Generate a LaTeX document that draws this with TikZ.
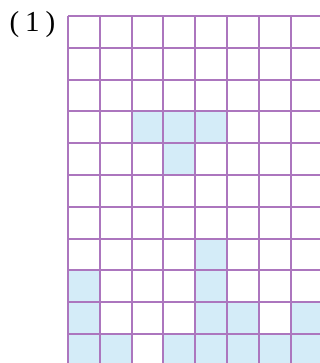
\documentclass[tikz,border=0pt]{standalone}
\usepackage{fontspec}
\setmainfont{Liberation Serif}
\usetikzlibrary{positioning}
\definecolor{gridpurple}{RGB}{172,118,190}
\definecolor{cellblue}{RGB}{212,236,248}

\begin{document}
\begin{tikzpicture}[
    x=1pt, y=-1pt,
    cell/.style={fill=cellblue},
    gridline/.style={draw=gridpurple, line width=2pt},
    tag/.style={font=\fontsize{29}{31}\selectfont, inner sep=0pt},
]
\useasboundingbox (0,0) rectangle (320,363);
\clip (0,0) rectangle (320,363);

% Label
\node[tag] (num) at (32.5,24.5) {(\hspace{6pt}1\hspace{6pt})};

% Shaded cells (column/row)
\foreach \c/\r in {2/3,3/3,4/3,3/4,4/7,0/8,4/8,0/9,4/9,5/9,7/9,
                   0/10,1/10,3/10,4/10,5/10,6/10,7/10}
    \fill[cell] (68+31.8*\c, 16+31.8*\r) rectangle ++(31.8,31.8);

% Grid
\foreach \i in {0,...,8}
    \draw[gridline] (68+31.8*\i, 16) -- (68+31.8*\i, 370);
\foreach \j in {0,...,11}
    \draw[gridline] (68, 16+31.8*\j) -- (330, 16+31.8*\j);

\end{tikzpicture}
\end{document}
